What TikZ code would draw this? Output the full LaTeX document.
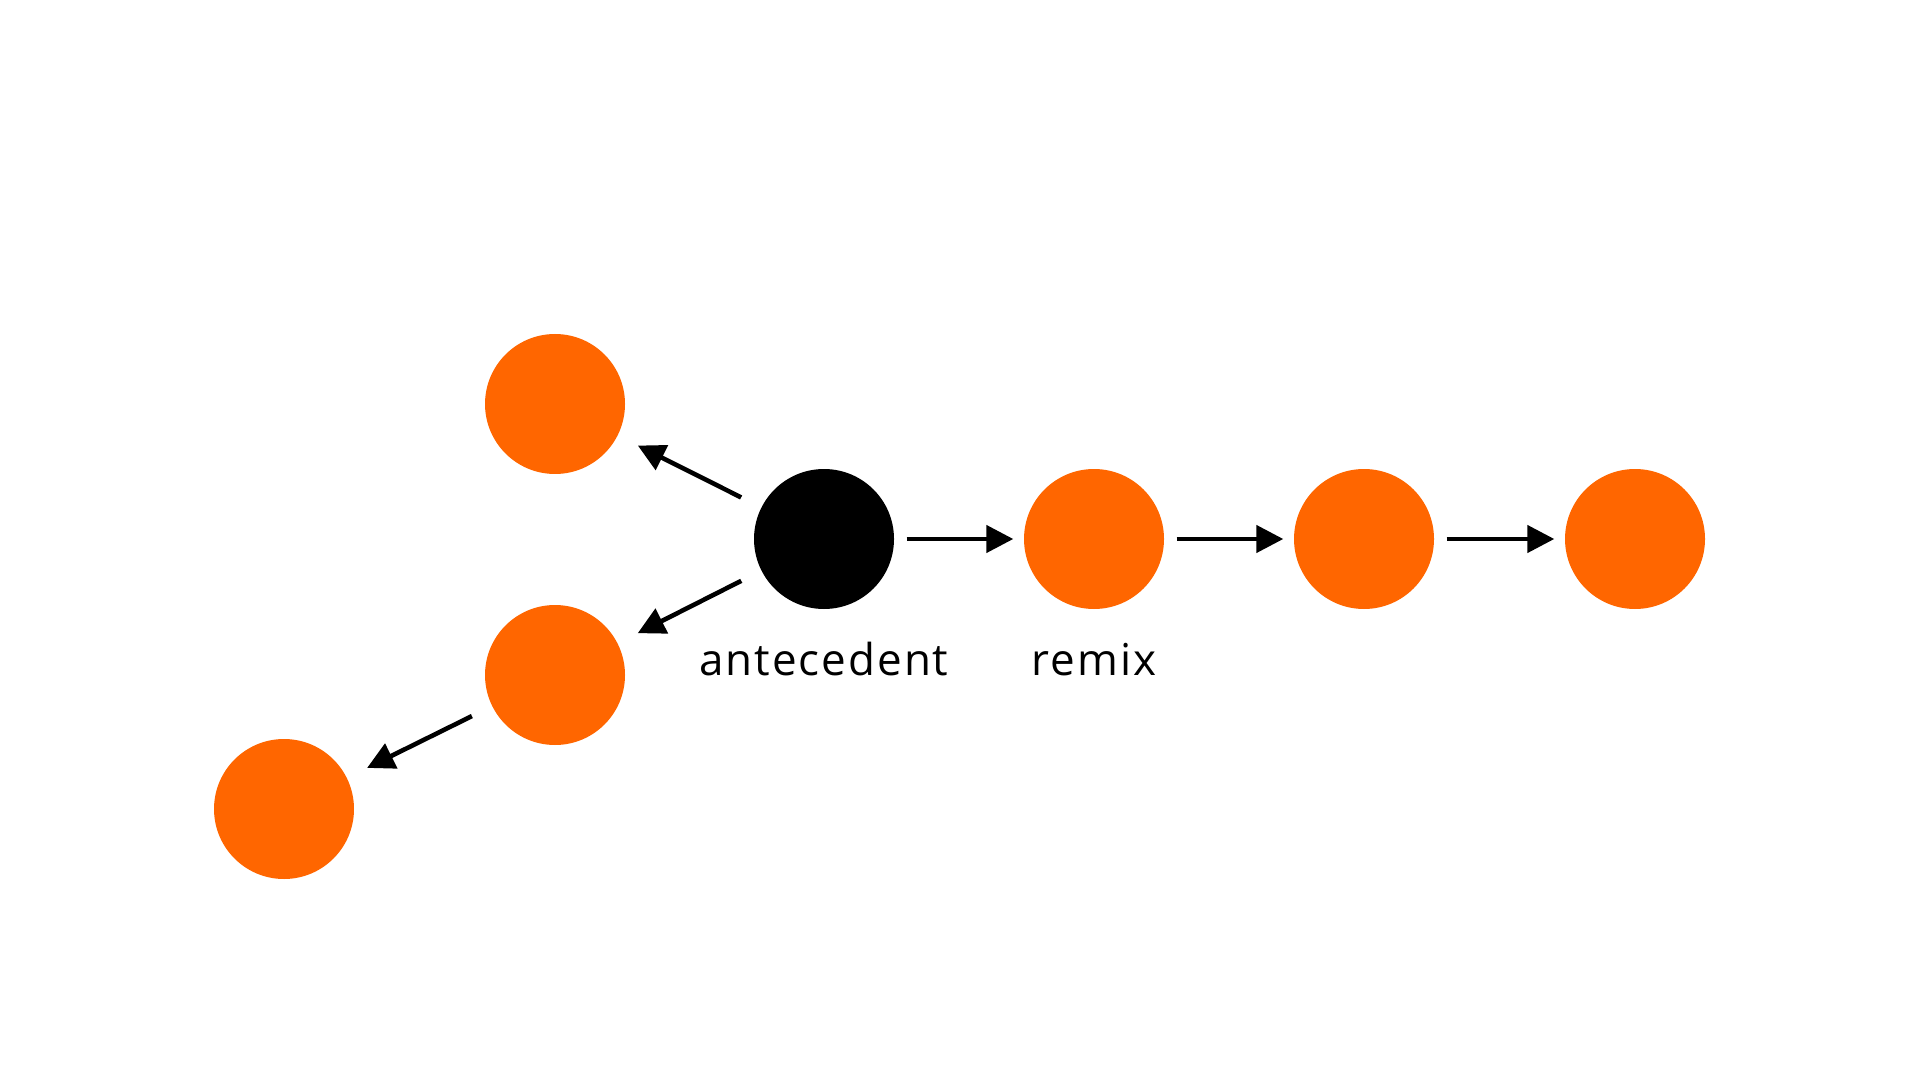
\documentclass[tikz,border=0pt]{standalone}
\usepackage{fontspec}
\setmainfont[LetterSpace=4.5]{Open Sans}
\usetikzlibrary{arrows.meta}

\begin{document}
\begin{tikzpicture}[x=1cm,y=-1cm]
% Define colours and styles
\definecolor{remixorange}{RGB}{255,102,0}
\tikzset{
  dot/.style={circle,minimum size=1.4cm,inner sep=0pt,draw=none},
  link/.style={-{Triangle[length=0.27cm,width=0.27cm]},line width=1.3pt},
  tag/.style={anchor=base,font=\fontsize{12.5}{15}\selectfont}
}
\useasboundingbox (0,0) rectangle (19.2,10.8);

% Draw the antecedent and its remixes
\node[dot,fill=black] (ante) at (8.24,5.39) {};
\node[dot,fill=remixorange] (remixa) at (10.94,5.39) {};
\node[dot,fill=remixorange] (remixb) at (13.64,5.39) {};
\node[dot,fill=remixorange] (remixc) at (16.35,5.39) {};
\node[dot,fill=remixorange] (prevup) at (5.55,4.04) {};
\node[dot,fill=remixorange] (prevdown) at (5.55,6.75) {};
\node[dot,fill=remixorange] (prevfar) at (2.84,8.09) {};

% Draw connections
\draw[link,shorten <=0.12cm,shorten >=0.1cm] (ante) -- (remixa);
\draw[link,shorten <=0.12cm,shorten >=0.1cm] (remixa) -- (remixb);
\draw[link,shorten <=0.12cm,shorten >=0.1cm] (remixb) -- (remixc);
\draw[link,shorten <=0.22cm,shorten >=0.22cm] (ante) -- (prevup);
\draw[link,shorten <=0.22cm,shorten >=0.22cm] (ante) -- (prevdown);
\draw[link,shorten <=0.22cm,shorten >=0.22cm] (prevdown) -- (prevfar);

% Add labels
\node[tag] (antetext) at (8.24,6.75) {antecedent};
\node[tag] (remixtext) at (10.94,6.75) {remix};
\end{tikzpicture}
\end{document}
